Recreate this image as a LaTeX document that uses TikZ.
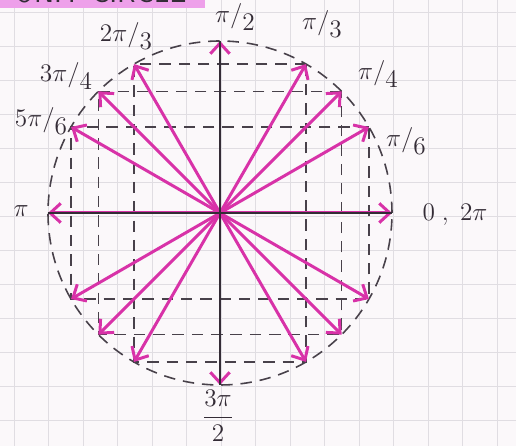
\documentclass[tikz,border=0pt]{standalone}
\usepackage{amsmath}
\usepackage{tikz}
\usetikzlibrary{arrows.meta}

\definecolor{pen}{RGB}{216,50,168}
\definecolor{ink}{RGB}{52,44,54}
\definecolor{paper}{RGB}{251,248,250}
\definecolor{gridline}{RGB}{224,221,226}
\definecolor{marker}{RGB}{238,160,234}

\newcommand{\fr}[2]{$#1/\raisebox{-0.7ex}{$#2$}$}

\begin{document}
\begin{tikzpicture}[x=1cm,y=1cm]
    \tikzstyle{angle}=[font=\Large,text=ink,inner sep=1pt]
    \tikzstyle{guide}=[ink!90,line width=0.9pt,dash pattern=on 6.5pt off 4.5pt]
    \tikzstyle{ray}=[pen,line width=1.7pt,-{Straight Barb[length=6pt,width=11pt]}]
    \tikzstyle{axis}=[ink,line width=1.1pt]
    \useasboundingbox (0,0) rectangle (10.32,8.92);
    % paper and heading
    \fill[paper] (0,0) rectangle (10.32,8.92);
    \draw[gridline,line width=0.5pt,shift={(0.28,0.52)}] (-0.28,-0.52) grid[xstep=0.69,ystep=0.68] (10.04,8.40);
    \begin{scope}
      \clip (0,0) rectangle (10.32,8.92);
      \fill[marker] (0,8.76) rectangle (4.1,8.92);
      \node[anchor=south east,font=\LARGE\sffamily,text=ink] (title) at (3.85,8.74) {UNIT CIRCLE};
    \end{scope}
    % circle, points on it
    \coordinate (o) at (4.40,4.66);
    \foreach \a in {0,30,45,60,90,120,135,150,180,210,225,240,270,300,315,330}
      \path (o) ++(\a:3.44) coordinate (p\a);
    \draw[guide] (o) circle (3.44);
    \foreach \a/\b/\c/\d in {30/150/210/330,45/135/225/315,60/120/240/300}
      \draw[guide] (p\a) -- (p\b) -- (p\c) -- (p\d) -- cycle;
    % rays
    \foreach \a in {0,30,45,60,90,120,135,150,180,210,225,240,270,300,315,330}
      \draw[ray] (o) -- (p\a);
    \draw[axis] (p180) -- (p0);
    \draw[axis] (p270) -- (p90);
    % angles
    \node[angle] (l90) at (4.70,8.58) {\fr{\pi}{2}};
    \node[angle] (l60) at (6.44,8.44) {\fr{\pi}{3}};
    \node[angle] (l45) at (7.56,7.44) {\fr{\pi}{4}};
    \node[angle] (l30) at (8.12,6.10) {\fr{\pi}{6}};
    \node[angle] (l0) at (9.10,4.62) {$0\;,\;2\pi$};
    \node[angle] (l180) at (0.42,4.70) {$\pi$};
    \node[angle] (l150) at (0.82,6.50) {\fr{5\pi}{6}};
    \node[angle] (l135) at (1.32,7.40) {\fr{3\pi}{4}};
    \node[angle] (l120) at (2.52,8.20) {\fr{2\pi}{3}};
    \node[angle] (l270) at (4.36,0.60) {$\dfrac{3\pi}{2}$};
\end{tikzpicture}
\end{document}
